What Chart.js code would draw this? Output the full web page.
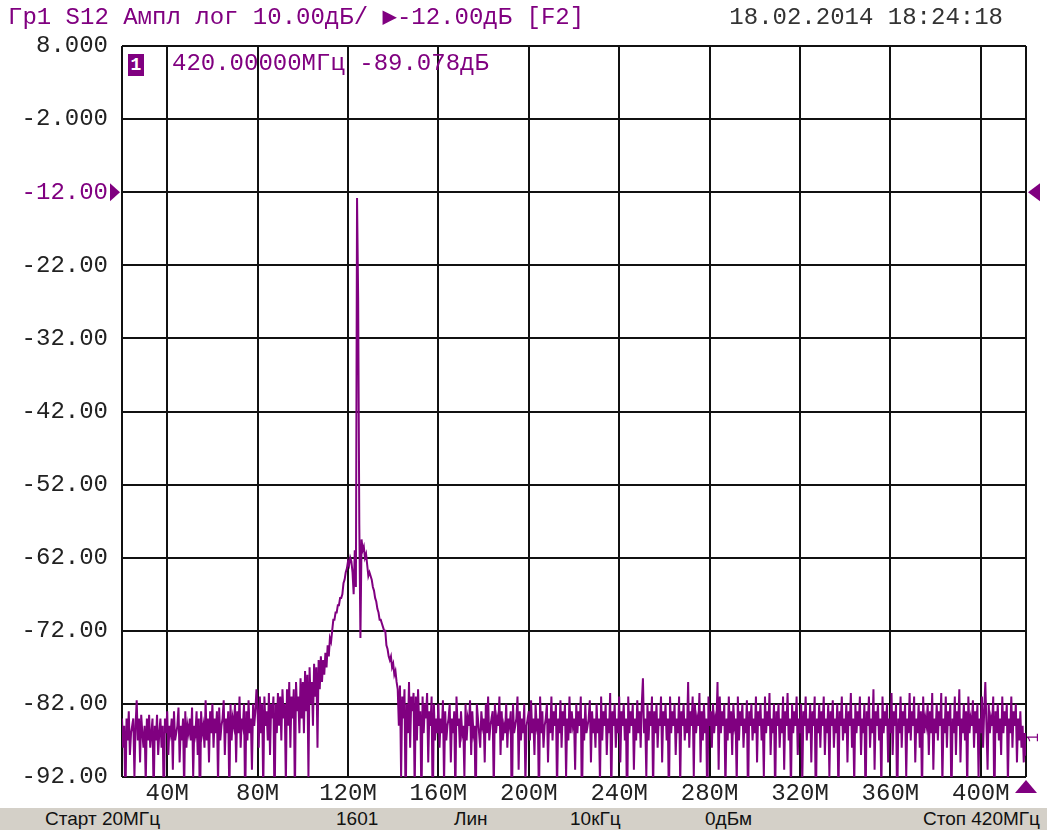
<!DOCTYPE html>
<html>
<head>
<meta charset="utf-8">
<script src="https://cdn.jsdelivr.net/npm/chart.js@4.4.1/dist/chart.umd.min.js"></script>
<style>
  body { margin: 0; background: #fff; width: 1047px; height: 830px; overflow: hidden; position: relative; font-family: "Liberation Mono", "DejaVu Sans Mono", monospace; }
  #wrap { position: absolute; left: 0; top: 0; width: 1047px; height: 808px; }
  .txt { position: absolute; white-space: pre; font-size: 24px; line-height: 24px; }
  #hdr { left: 8px; top: 6px; color: #800080; }
  #stamp { right: 44px; top: 6px; color: #333; }
  #mk { left: 172px; top: 52px; color: #800080; }
  #mkno { left: 128px; top: 54px; width: 16px; height: 22px; background: #800080; color: #fff; font-size: 18px; line-height: 22px; text-align: center; font-weight: bold; }
  #status { position: absolute; left: 0; top: 808px; width: 1047px; height: 22px; background: #d4d0c8; font-family: "Liberation Sans", Arial, sans-serif; font-size: 19px; color: #111; }
  #status span { position: absolute; top: 0; line-height: 22px; white-space: pre; }
</style>
</head>
<body>
<div id="wrap"><canvas id="vna" width="1047" height="808"></canvas></div>
<div class="txt" id="hdr">Гр1 S12 Ампл лог 10.00дБ/ ▶-12.00дБ [F2]</div>
<div class="txt" id="stamp">18.02.2014 18:24:18</div>
<div class="txt" id="mkno">1</div>
<div class="txt" id="mk">420.00000МГц -89.078дБ</div>
<div id="status">
  <span style="left:45px">Старт 20МГц</span>
  <span style="left:336px">1601</span>
  <span style="left:454px">Лин</span>
  <span style="left:570px">10кГц</span>
  <span style="left:705px">0дБм</span>
  <span style="right:7px">Стоп 420МГц</span>
</div>
<script>
// sweep: 20..420 MHz, trace every 0.5 MHz (dB)
const FREQ_START = 20;
const FREQ_STOP = 420;

const s12 = [
  // 20 - 29.5
  -84,-88,-85,-96,-84,-87,-83,-89,-86,-85,-84,-92,-85,-81.5,-87,-84,-90,-83.5,-86,-88,
  // 30 - 39.5
  -85,-93,-84,-87,-83.5,-88,-86,-84,-95,-85,-87,-83.5,-89,-86,-84,-88,-85,-97,-84,-86,
  // 40 - 49.5
  -83,-89,-85,-86,-84,-91,-83,-87,-86,-85,-82.5,-90,-85,-87,-84,-94,-83,-88,-85,-86,
  // 50 - 59.5
  -84,-87,-82.5,-92,-85,-86,-83,-89,-84,-98,-83,-86,-85,-88,-81.5,-87,-84,-90,-83,-86,
  // 60 - 69.5
  -82,-88,-84,-86,-83,-93,-82.5,-87,-85,-84,-81.5,-89,-84,-86,-83,-95,-82,-87,-84,-85,
  // 70 - 79.5
  -82,-90,-83,-86,-81,-88,-84,-85,-82,-96,-83,-87,-81.5,-86,-84,-91,-82,-85,-83,-80,
  // 80 - 89.5
  -83,-88,-81,-86,-82,-94,-81,-85,-83,-87,-80.5,-89,-82,-84,-81,-97,-82,-86,-80.5,-85,
  // 90 - 99.5
  -81,-87,-80,-84,-82,-93,-80,-85,-79,-88,-81,-84,-80,-95,-79,-83,-81,-86,-78.5,-84,
  // 100 - 109.5
  -79,-86,-77.5,-83,-78,-92,-77,-82,-79,-85,-76.5,-81,-77,-88,-76,-80,-75.5,-79,-76,-78,
  // 110 - 119.5
  -75,-77,-74,-75.5,-73,-73.5,-72,-70.5,-70.5,-69.5,-69.5,-68.5,-68.5,-67.5,-67.5,-67,-65.5,-65,-64,-63.5,
  // 120 - 129.5  (carrier at 124 MHz)
  -62.5,-63,-62,-62.5,-64,-67,-61,-66,-12.8,-26.7,-57.5,-73,-59.5,-61,-60.5,-62,-61.5,-63,-64.5,-64,
  // 130 - 139.5
  -64.5,-65,-66,-66.5,-67.5,-68,-69,-69.5,-70.5,-70.5,-71,-71.5,-72,-72,-74,-74.5,-75.5,-76,-75.5,-77,
  // 140 - 149.5
  -76.5,-78,-77.5,-79,-80,-85,-79.5,-92,-81,-84,-80,-97,-82,-86,-79,-88,-81,-83,-80.5,-94,
  // 150 - 159.5
  -81,-87,-80,-85,-83,-96,-81,-86,-82,-84,-80.5,-90,-83,-85,-81,-98,-82,-87,-84,-86,
  // 160 - 169.5
  -82,-88,-84,-86,-81.5,-93,-83,-87,-85,-84,-82,-90,-84,-86,-83,-95,-81,-85,-84,-88,
  // 170 - 179.5
  -83,-86,-85,-92,-82,-87,-84,-85,-81.5,-89,-83,-86,-85,-97,-82,-84,-86,-88,-83,-85,
  // 180 - 189.5
  -84,-90,-82,-86,-81,-87,-85,-84,-83,-94,-82,-86,-84,-85,-81,-89,-83,-87,-85,-86,
  // 190 - 199.5
  -82,-88,-84,-85,-83,-99,-82,-86,-85,-84,-81,-91,-83,-87,-84,-86,-82,-93,-85,-84,
  // 200 - 209.5
  -83,-87,-81.5,-86,-84,-89,-82,-85,-84,-96,-81,-86,-83,-88,-85,-84,-82,-90,-84,-86,
  // 210 - 219.5
  -81,-87,-83,-85,-82,-94,-84,-86,-81.5,-88,-83,-85,-82,-92,-84,-87,-81,-86,-83,-85,
  // 220 - 229.5
  -84,-91,-82,-86,-83,-85,-81,-97,-84,-87,-82,-86,-85,-84,-81.5,-90,-83,-86,-84,-88,
  // 230 - 239.5
  -82,-86,-84,-93,-81,-87,-83,-85,-82,-89,-84,-86,-80.5,-95,-83,-85,-82,-88,-84,-86,
  // 240 - 249.5
  -81,-90,-83,-85,-82,-87,-84,-98,-81,-86,-83,-85,-82,-91,-84,-87,-81.5,-86,-83,-88,
  // 250 - 259.5
  -82,-78.5,-86,-84,-92,-82,-87,-83,-85,-81,-94,-83,-86,-82,-88,-84,-85,-81,-90,-83,
  // 260 - 269.5
  -85,-82,-87,-84,-96,-81,-86,-83,-85,-82,-89,-84,-86,-81,-93,-83,-85,-82,-87,-84,
  // 270 - 279.5
  -86,-79,-88,-83,-85,-81,-92,-82,-86,-84,-85,-80.5,-90,-83,-87,-82,-86,-84,-97,-81,
  // 280 - 289.5
  -85,-83,-88,-82,-86,-84,-85,-79,-91,-81,-86,-83,-85,-82,-94,-84,-87,-81,-86,-83,
  // 290 - 299.5
  -89,-82,-85,-84,-93,-81,-87,-83,-85,-82,-88,-84,-86,-81.5,-96,-83,-85,-82,-87,-84,
  // 300 - 309.5
  -86,-81,-90,-83,-85,-82,-87,-84,-92,-81,-86,-83,-85,-80.5,-89,-84,-86,-82,-95,-83,
  // 310 - 319.5
  -85,-82,-88,-84,-86,-81,-91,-83,-85,-80.5,-87,-84,-94,-82,-86,-83,-85,-81,-89,-84,
  // 320 - 329.5
  -86,-82,-93,-83,-85,-81,-87,-84,-86,-82,-90,-83,-85,-81,-97,-84,-86,-82,-88,-83,
  // 330 - 339.5
  -85,-81,-89,-84,-86,-82,-92,-83,-85,-81.5,-88,-84,-86,-82,-95,-83,-85,-81,-87,-84,
  // 340 - 349.5
  -86,-82,-90,-83,-85,-80.5,-88,-84,-93,-82,-86,-83,-85,-81,-89,-84,-86,-82,-96,-83,
  // 350 - 359.5
  -85,-81,-88,-84,-86,-80,-91,-83,-85,-82,-87,-84,-94,-81,-86,-83,-85,-82,-90,-84,
  // 360 - 369.5
  -86,-80.5,-89,-83,-85,-82,-97,-84,-86,-81,-88,-83,-85,-82,-92,-84,-86,-80.5,-87,-83,
  // 370 - 379.5
  -85,-81,-90,-84,-86,-82,-88,-83,-95,-81,-86,-84,-85,-82,-89,-83,-86,-80.5,-91,-84,
  // 380 - 389.5
  -86,-82,-87,-83,-85,-80.5,-93,-84,-86,-81,-88,-83,-85,-82,-96,-84,-86,-81,-89,-83,
  // 390 - 399.5
  -85,-80,-90,-84,-86,-82,-87,-83,-94,-81,-86,-84,-85,-81.5,-88,-83,-86,-82,-92,-84,
  // 400 - 409.5
  -86,-81,-88,-83,-79,-85,-91,-82,-86,-84,-85,-81,-97,-83,-86,-82,-87,-84,-89,-81,
  // 410 - 419.5
  -86,-83,-85,-82,-93,-84,-86,-81,-88,-83,-85,-82,-90,-84,-87,-83,-88,-85,-90,-86,
  // 420
  -89.078
];

const xTicks = [20, 40, 80, 120, 160, 200, 240, 280, 320, 360, 400, 420];
const xTickLabels = ['', '40M', '80M', '120M', '160M', '200M', '240M', '280M', '320M', '360M', '400M', ''];
const yTicks = [8, -2, -12, -22, -32, -42, -52, -62, -72, -82, -92];
const yTickLabels = ['8.000', '-2.000', '-12.00', '-22.00', '-32.00', '-42.00', '-52.00', '-62.00', '-72.00', '-82.00', '-92.00'];
const REF_LEVEL = -12;
const MARKER_FREQ = 420;

const PURPLE = '#800080';

// sweep points are evenly spaced, 0.5 MHz apart
const step = (FREQ_STOP - FREQ_START) / (s12.length - 1);
const points = s12.map((v, i) => ({ x: FREQ_START + i * step, y: v }));

// reference level arrows, marker triangle and the small marker tag on the trace
const vnaMarks = {
    id: 'vnaMarks',
    afterDraw(chart) {
        const c = chart.ctx;
        const xs = chart.scales.x, ys = chart.scales.y;
        const ry = ys.getPixelForValue(REF_LEVEL);
        const left = chart.chartArea.left, right = chart.chartArea.right;
        c.save();
        c.fillStyle = PURPLE;
        c.beginPath();
        c.moveTo(left - 12, ry - 9); c.lineTo(left - 12, ry + 9); c.lineTo(left - 2, ry);
        c.closePath(); c.fill();
        c.beginPath();
        c.moveTo(right + 14, ry - 9); c.lineTo(right + 14, ry + 9); c.lineTo(right + 2, ry);
        c.closePath(); c.fill();
        const mx = xs.getPixelForValue(MARKER_FREQ);
        const by = chart.chartArea.bottom;
        c.beginPath();
        c.moveTo(mx - 11, by + 16); c.lineTo(mx + 11, by + 16); c.lineTo(mx, by + 3);
        c.closePath(); c.fill();
        // marker tag "1" next to the last point
        const my = ys.getPixelForValue(s12[s12.length - 1]);
        c.translate(mx + 8, my - 18);
        c.rotate(-Math.PI / 2);
        c.font = '16px "Liberation Mono"';
        c.textAlign = 'center';
        c.textBaseline = 'middle';
        c.fillText('1', 0, 0);
        c.restore();
    }
};

new Chart(document.getElementById('vna'), {
    type: 'line',
    data: {
        datasets: [{
            data: points,
            borderColor: PURPLE,
            borderWidth: 2,
            pointRadius: 0,
            tension: 0,
            fill: false
        }]
    },
    options: {
        responsive: false,
        animation: false,
        parsing: false,
        normalized: true,
        events: [],
        layout: { padding: { top: 46, right: 21, left: 0, bottom: 0 } },
        plugins: {
            legend: { display: false },
            tooltip: { enabled: false },
            title: { display: false }
        },
        scales: {
            x: {
                type: 'linear',
                min: FREQ_START,
                max: FREQ_STOP,
                z: 1,
                afterBuildTicks: (s) => { s.ticks = xTicks.map(v => ({ value: v })); },
                afterFit: (s) => { s.height = 31; },
                grid: { color: '#111', lineWidth: 2, drawTicks: false },
                border: { display: false },
                ticks: {
                    autoSkip: false,
                    maxRotation: 0,
                    padding: 2,
                    color: '#222',
                    font: { family: 'Liberation Mono', size: 24 },
                    callback: (v, i) => xTickLabels[i]
                }
            },
            y: {
                min: -92,
                max: 8,
                z: 1,
                afterBuildTicks: (s) => { s.ticks = yTicks.map(v => ({ value: v })); },
                afterFit: (s) => { s.width = 122; },
                grid: { color: '#111', lineWidth: 2, drawTicks: false },
                border: { display: false },
                ticks: {
                    autoSkip: false,
                    padding: 14,
                    color: (ctx) => ctx.tick && ctx.tick.value === REF_LEVEL ? PURPLE : '#222',
                    font: { family: 'Liberation Mono', size: 24 },
                    callback: (v) => yTickLabels[yTicks.indexOf(v)]
                }
            }
        }
    },
    plugins: [vnaMarks]
});
</script>
</body>
</html>
